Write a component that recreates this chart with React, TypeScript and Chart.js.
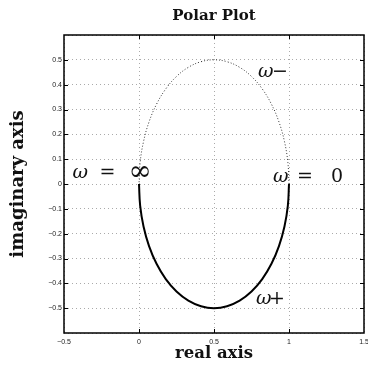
import React, { useEffect, useRef } from "react";
import { Chart, registerables } from "chart.js";

Chart.register(...registerables);

// Lower half (omega >= 0): solid
const lowerX = [1, 0.9924, 0.9698, 0.933, 0.883, 0.8214, 0.75, 0.671, 0.5868, 0.5, 0.4132, 0.329, 0.25, 0.1786, 0.117, 0.067, 0.0302, 0.0076, 0];
const lowerY = [0, -0.0868, -0.171, -0.25, -0.3214, -0.383, -0.433, -0.4698, -0.4924, -0.5, -0.4924, -0.4698, -0.433, -0.383, -0.3214, -0.25, -0.171, -0.0868, 0];
// Upper half (omega < 0): dotted
const upperX = [1, 0.9924, 0.9698, 0.933, 0.883, 0.8214, 0.75, 0.671, 0.5868, 0.5, 0.4132, 0.329, 0.25, 0.1786, 0.117, 0.067, 0.0302, 0.0076, 0];
const upperY = [0, 0.0868, 0.171, 0.25, 0.3214, 0.383, 0.433, 0.4698, 0.4924, 0.5, 0.4924, 0.4698, 0.433, 0.383, 0.3214, 0.25, 0.171, 0.0868, 0];

const xTicks = [-0.5, 0, 0.5, 1, 1.5];

const titleText = "Polar Plot";
const xLabel = "real axis";
const yLabel = "imaginary axis";

// annotation text anchored at data coords (left, baseline)
const annotations: { parts: string[]; offs: number[]; sizes: number[]; dy: number[]; x: number; y: number }[] = [
  { parts: ["\u03c9", "=", "\u221e"], offs: [0, 27, 56], sizes: [19, 19, 28], dy: [0, 0, 2], x: -0.443, y: 0.024 },
  { parts: ["\u03c9", "=", "0"], offs: [0, 24, 58], sizes: [19, 19, 19], dy: [0, 0, 0], x: 0.894, y: 0.008 },
  { parts: ["\u03c9", "\u2212"], offs: [0, 14], sizes: [19, 19], dy: [0, 0], x: 0.793, y: 0.432 },
  { parts: ["\u03c9", "+"], offs: [0, 13], sizes: [19, 19], dy: [0, 0], x: 0.78, y: -0.484 },
];

function fmtY(v: number): string {
  const r = Math.round(v * 10) / 10;
  if (Math.abs(r) > 0.55) return "";
  if (r === 0) return "0";
  return (r < 0 ? "\u2212" : "") + Math.abs(r).toString();
}

const framePlugin = {
  id: "framePlugin",
  afterDraw(chart: any) {
    const { ctx, chartArea } = chart;
    const xs = chart.scales.x;
    const ys = chart.scales.y;
    const { left, right, top, bottom } = chartArea;
    ctx.save();
    // inward ticks
    ctx.strokeStyle = "#000";
    ctx.lineWidth = 1;
    ctx.setLineDash([]);
    const tl = 4;
    xs.ticks.forEach((t: any) => {
      const px = Math.round(xs.getPixelForValue(t.value)) + 0.5;
      if (px - left < 2 || right - px < 2) return;
      ctx.beginPath();
      ctx.moveTo(px, bottom);
      ctx.lineTo(px, bottom - tl);
      ctx.moveTo(px, top);
      ctx.lineTo(px, top + tl);
      ctx.stroke();
    });
    ys.ticks.forEach((t: any) => {
      const py = Math.round(ys.getPixelForValue(t.value)) + 0.5;
      if (py - top < 2 || bottom - py < 2) return;
      ctx.beginPath();
      ctx.moveTo(left, py);
      ctx.lineTo(left + tl, py);
      ctx.moveTo(right, py);
      ctx.lineTo(right - tl, py);
      ctx.stroke();
    });
    // frame
    ctx.lineWidth = 1.5;
    ctx.strokeRect(left, top, right - left, bottom - top);

    // titles
    ctx.fillStyle = "#111";
    ctx.textAlign = "center";
    ctx.textBaseline = "alphabetic";
    ctx.font = "bold 15px 'DejaVu Serif'";
    ctx.fillText(titleText, (left + right) / 2, 20);
    ctx.font = "bold 16.5px 'DejaVu Serif'";
    ctx.fillText(xLabel, (left + right) / 2, 358);
    ctx.save();
    ctx.translate(23, (top + bottom) / 2);
    ctx.rotate(-Math.PI / 2);
    ctx.font = "bold 18px 'DejaVu Serif'";
    ctx.fillText(yLabel, 0, 0);
    ctx.restore();

    // annotations
    ctx.textAlign = "left";
    annotations.forEach((a) => {
      const px = xs.getPixelForValue(a.x);
      const py = ys.getPixelForValue(a.y);
      a.parts.forEach((p, i) => {
        ctx.font = (i === 0 ? "italic " : "") + a.sizes[i] + "px 'DejaVu Serif'";
        ctx.fillText(p, px + a.offs[i], py + a.dy[i]);
      });
    });
    ctx.restore();
  },
};

export default function App() {
  const ref = useRef<HTMLCanvasElement | null>(null);
  useEffect(() => {
    if (!ref.current) return;
    const chart = new Chart(ref.current, {
      type: "scatter",
      data: {
        datasets: [
          {
            data: upperX.map((x, i) => ({ x, y: upperY[i] })),
            showLine: true,
            borderColor: "#333",
            borderWidth: 1,
            borderDash: [1, 2],
            pointRadius: 0,
            tension: 0.4,
          },
          {
            data: lowerX.map((x, i) => ({ x, y: lowerY[i] })),
            showLine: true,
            borderColor: "#000",
            borderWidth: 2,
            pointRadius: 0,
            tension: 0.4,
          },
        ],
      },
      options: {
        responsive: false,
        animation: false,
        layout: { padding: { top: 35, right: 4, left: 0, bottom: 0 } },
        plugins: { legend: { display: false }, tooltip: { enabled: false }, title: { display: false } },
        scales: {
          x: {
            type: "linear",
            min: -0.5,
            max: 1.5,
            afterBuildTicks: (s: any) => {
              s.ticks = xTicks.map((v) => ({ value: v }));
            },
            afterFit: (s: any) => {
              s.height = 35;
              s.paddingRight = 0;
              s.paddingLeft = 0;
            },
            ticks: {
              padding: 5,
              font: { family: "'Liberation Sans'", size: 7 },
              color: "#222",
              maxRotation: 0,
              callback: (v: any) => (v < 0 ? "\u2212" + Math.abs(v) : String(v)),
            },
            grid: { color: "#aaa", lineWidth: 1, drawTicks: false },
            border: { display: false, dash: [1, 3] },
          },
          y: {
            type: "linear",
            min: -0.6,
            max: 0.6,
            ticks: {
              stepSize: 0.1,
              padding: 2,
              font: { family: "'Liberation Sans'", size: 7 },
              color: "#222",
              callback: (v: any) => fmtY(v),
            },
            afterFit: (s: any) => {
              s.width = 64;
              s.paddingTop = 0;
              s.paddingBottom = 0;
            },
            grid: { color: "#aaa", lineWidth: 1, drawTicks: false },
            border: { display: false, dash: [1, 3] },
          },
        },
      },
      plugins: [framePlugin],
    } as any);
    return () => chart.destroy();
  }, []);
  return (
    <div style={{ position: "fixed", left: 0, top: 0, width: 368, height: 368, background: "#fff" }}>
      <canvas ref={ref} width={368} height={368} />
    </div>
  );
}
